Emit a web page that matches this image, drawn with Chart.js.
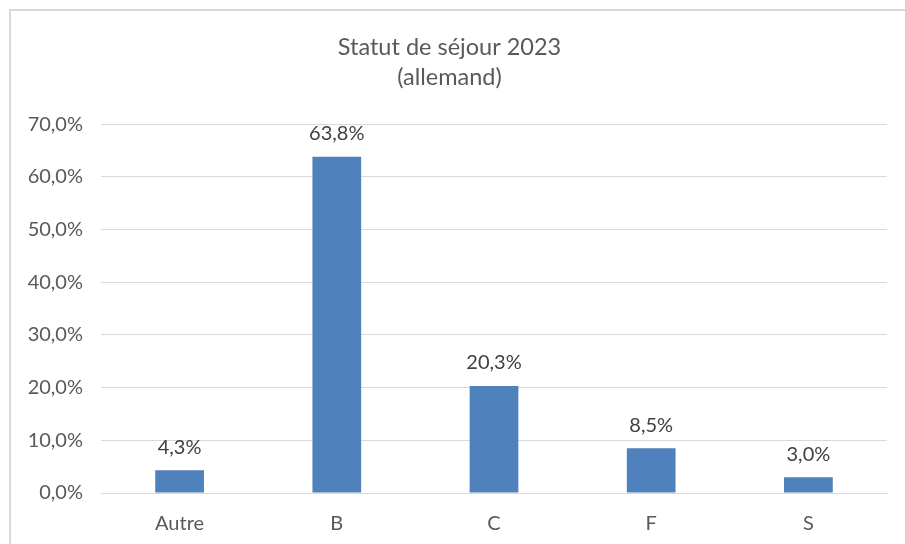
<!DOCTYPE html>
<html>
<head>
<meta charset="utf-8">
<script src="https://cdn.jsdelivr.net/npm/chart.js@4"></script>
<style>
html,body{margin:0;padding:0;background:#fff;}
#wrap{position:relative;width:905px;height:544px;}
</style>
</head>
<body>
<div id="wrap"><canvas id="c" width="905" height="544"></canvas></div>
<script>
const categories = ['Autre', 'B', 'C', 'F', 'S'];
const values = [4.3, 63.8, 20.3, 8.5, 3.0];
const titleLines = ['Statut de séjour 2023', '(allemand)'];
const yMax = 70;
const yStep = 10;

const fmt = v => v.toFixed(1).replace('.', ',') + '%';

const borderPlugin = {
  id: 'frame',
  beforeDraw(chart) {
    const ctx = chart.ctx;
    ctx.save();
    ctx.fillStyle = '#ffffff';
    ctx.fillRect(0, 0, chart.width, chart.height);
    ctx.strokeStyle = '#d9d9d9';
    ctx.lineWidth = 2;
    ctx.beginPath();
    ctx.moveTo(10, chart.height);
    ctx.lineTo(10, 10);
    ctx.lineTo(chart.width, 10);
    ctx.stroke();
    ctx.restore();
  }
};

const labelPlugin = {
  id: 'valueLabels',
  afterDatasetsDraw(chart) {
    const ctx = chart.ctx;
    const meta = chart.getDatasetMeta(0);
    ctx.save();
    ctx.fillStyle = '#404040';
    ctx.font = '20px Lato';
    ctx.textAlign = 'center';
    ctx.textBaseline = 'middle';
    meta.data.forEach((bar, i) => {
      ctx.fillText(fmt(values[i]), bar.x, bar.y - 23);
    });
    ctx.restore();
  }
};

new Chart(document.getElementById('c'), {
  type: 'bar',
  data: {
    labels: categories,
    datasets: [{
      data: values,
      backgroundColor: '#4F81BD',
      borderWidth: 0,
      barPercentage: 0.31,
      categoryPercentage: 1.0
    }]
  },
  options: {
    responsive: false,
    animation: false,
    layout: { padding: { left: 12, right: 18, top: 0, bottom: 0 } },
    plugins: {
      legend: { display: false },
      tooltip: { enabled: false },
      title: {
        display: true,
        text: titleLines,
        color: '#595959',
        font: { family: 'Lato', size: 23.5, weight: 'normal', lineHeight: 1.3 },
        padding: { top: 32, bottom: 31 }
      }
    },
    scales: {
      x: {
        grid: { display: false, drawTicks: false },
        border: { display: true, color: '#d9d9d9', width: 1 },
        ticks: { color: '#595959', font: { family: 'Lato', size: 20 }, padding: 19 },
        afterFit(scale) { scale.height = 51; }
      },
      y: {
        min: 0,
        max: yMax,
        ticks: {
          stepSize: yStep,
          color: '#595959',
          font: { family: 'Lato', size: 20 },
          padding: 18,
          callback: v => fmt(v)
        },
        grid: { color: '#d9d9d9', lineWidth: 1, drawTicks: false },
        border: { display: false },
        afterFit(scale) { scale.width = 89; }
      }
    }
  },
  plugins: [borderPlugin, labelPlugin]
});
</script>
</body>
</html>
